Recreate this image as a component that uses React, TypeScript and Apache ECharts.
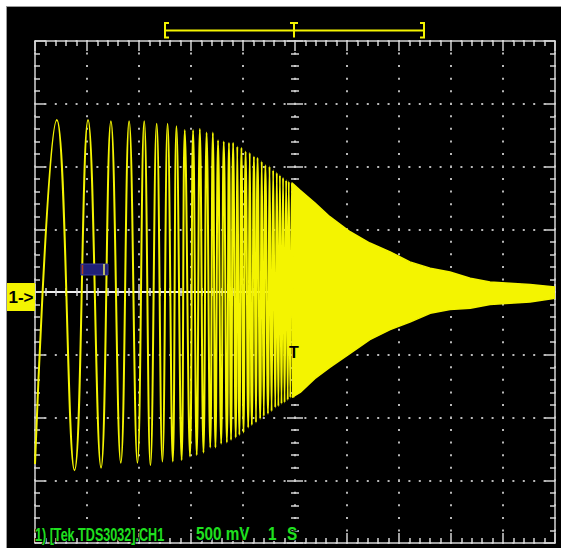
import { useEffect, useRef } from "react";
import * as echarts from "echarts";

// ---- axis ranges (seconds / volts) ----
const TIME_MIN = -5;
const TIME_MAX = 5;
const TIME_PER_DIV = 1;
const VOLT_MIN = -2;
const VOLT_MAX = 2;
const VOLT_PER_DIV = 0.5;

// ---- trace: start point, then alternating peaks / troughs ----
const traceStartTime = -5.0;
const traceStartVolt = -1.37;

const peakTimes = [
  -4.58, -3.98, -3.54, -3.19, -2.9, -2.66, -2.45, -2.28, -2.12, -1.96, -1.83,
  -1.7, -1.58, -1.48, -1.37, -1.27, -1.19, -1.11, -1.03, -0.95, -0.87, -0.79,
  -0.72, -0.64, -0.57, -0.49, -0.42, -0.35, -0.29, -0.23, -0.17, -0.12, -0.06,
];
const peakVolts = [
  1.37, 1.37, 1.36, 1.36, 1.36, 1.34, 1.34, 1.32, 1.29, 1.29, 1.3, 1.27, 1.27,
  1.21, 1.2, 1.19, 1.19, 1.16, 1.15, 1.12, 1.11, 1.08, 1.07, 1.04, 1.01, 1.0,
  0.97, 0.95, 0.93, 0.91, 0.89, 0.88, 0.87,
];
const troughTimes = [
  -4.24, -3.73, -3.35, -3.03, -2.78, -2.55, -2.35, -2.18, -2.02, -1.89, -1.76,
  -1.63, -1.53, -1.42, -1.31, -1.23, -1.14, -1.07, -0.99, -0.9, -0.83, -0.75,
  -0.67, -0.6, -0.52, -0.45, -0.38, -0.32, -0.26, -0.2, -0.14, -0.09, -0.03,
];
const troughVolts = [
  -1.42, -1.4, -1.36, -1.36, -1.38, -1.35, -1.35, -1.34, -1.31, -1.3, -1.28,
  -1.24, -1.24, -1.21, -1.2, -1.18, -1.16, -1.14, -1.12, -1.08, -1.06, -1.04,
  -1.01, -0.99, -0.97, -0.95, -0.92, -0.91, -0.89, -0.88, -0.86, -0.84, -0.84,
];

// ---- dense (aliased) part: upper / lower envelope ----
const envelopeTimes = [
  -0.06, 0.1, 0.38, 0.67, 1.06, 1.44, 1.83, 2.21, 2.6, 2.98, 3.37, 3.75, 4.13,
  4.52, 5.0,
];
const envelopeUpper = [
  0.87, 0.81, 0.71, 0.6, 0.48, 0.39, 0.32, 0.24, 0.19, 0.16, 0.11, 0.08, 0.07,
  0.06, 0.04,
];
const envelopeLower = [
  -0.84, -0.8, -0.69, -0.6, -0.49, -0.38, -0.3, -0.24, -0.17, -0.14, -0.13,
  -0.1, -0.09, -0.08, -0.05,
];

// ---- screen texts ----
const channelTag = "1->";
const triggerMark = "T";
const statusSource = "1) [Tek TDS3032].CH1";
const statusVolts = "500 mV";
const statusTime = "1";
const statusUnit = "S";

const YELLOW = "#f4f400";
const FRAME = "#d4d4d4";
const DOT = "#b8b8b8";
const GREEN = "#1fe01f";

export default function App() {
  const ref = useRef<HTMLDivElement>(null);

  useEffect(() => {
    if (!ref.current) return;
    const chart = echarts.init(ref.current, undefined, { renderer: "svg" });

    const trace: number[][] = [[traceStartTime, traceStartVolt]];
    for (let i = 0; i < peakTimes.length; i++) {
      trace.push([peakTimes[i], peakVolts[i]]);
      if (i < troughTimes.length) trace.push([troughTimes[i], troughVolts[i]]);
    }
    const upper = envelopeTimes.map((t, i) => [t, envelopeUpper[i]]);
    const lower = envelopeTimes.map((t, i) => [t, envelopeLower[i]]);

    const gridRect = { left: 35, top: 41, width: 520, height: 502, containLabel: false, outerBoundsMode: "none" };

    const tickStyle = (color: string) => ({ color, width: 1.5 });
    const baseX = { type: "value", min: TIME_MIN, max: TIME_MAX, interval: TIME_PER_DIV, axisLabel: { show: false } };
    const baseY = { type: "value", min: VOLT_MIN, max: VOLT_MAX, interval: VOLT_PER_DIV, axisLabel: { show: false } };

    const frameX = (position: string, withSplit: boolean) => ({
      ...baseX,
      gridIndex: 0,
      position,
      axisLine: { show: true, onZero: false, lineStyle: { color: FRAME, width: 1.5 } },
      axisTick: { show: true, inside: true, length: 10, lineStyle: tickStyle(FRAME) },
      minorTick: { show: true, splitNumber: 5, length: 5, lineStyle: tickStyle(FRAME) },
      splitLine: {
        show: withSplit,
        lineStyle: { color: DOT, width: 2, type: [2, 10.55], dashOffset: 1 },
      },
    });
    const frameY = (position: string, withSplit: boolean) => ({
      ...baseY,
      gridIndex: 0,
      position,
      axisLine: { show: true, onZero: false, lineStyle: { color: FRAME, width: 1.5 } },
      axisTick: { show: true, inside: true, length: 10, lineStyle: tickStyle(FRAME) },
      minorTick: { show: true, splitNumber: 5, length: 5, lineStyle: tickStyle(FRAME) },
      splitLine: {
        show: withSplit,
        lineStyle: { color: DOT, width: 2, type: [2, 8.4], dashOffset: 1 },
      },
    });
    const crossX = (grid: number, inside: boolean, lineColor: string) => ({
      ...baseX,
      gridIndex: grid,
      position: "bottom",
      axisLine: { show: true, onZero: true, lineStyle: { color: lineColor, width: 1.5 } },
      axisTick: { show: true, inside, length: 8, lineStyle: tickStyle(FRAME) },
      minorTick: { show: true, splitNumber: 5, length: 4, lineStyle: tickStyle(FRAME) },
      splitLine: { show: false },
    });
    const crossY = (grid: number, inside: boolean) => ({
      ...baseY,
      gridIndex: grid,
      position: "left",
      axisLine: { show: true, onZero: true, lineStyle: { color: "rgba(0,0,0,0)", width: 1 } },
      axisTick: { show: true, inside, length: 8, lineStyle: tickStyle(FRAME) },
      minorTick: { show: true, splitNumber: 5, length: 4, lineStyle: tickStyle(FRAME) },
      splitLine: { show: false },
    });

    const textStyle = (text: string, fill: string, font: string, align: string, vAlign: string, extra: any = {}) => ({
      text,
      fill,
      font,
      align,
      verticalAlign: vAlign,
      textAlign: align,
      textVerticalAlign: vAlign,
      ...extra,
    });

    const statusFont = "bold 18px 'Liberation Sans', Arial, sans-serif";
    const statusExtra = { stroke: "#000", lineWidth: 2 };

    const option: any = {
      animation: false,
      backgroundColor: "transparent",
      grid: [gridRect, { ...gridRect }, { ...gridRect }],
      xAxis: [frameX("bottom", true), frameX("top", false), crossX(1, true, "#ffffff"), crossX(2, false, "#ffffff")],
      yAxis: [frameY("left", true), frameY("right", false), crossY(1, true), crossY(2, false)],
      series: [
        {
          type: "line",
          xAxisIndex: 0,
          yAxisIndex: 0,
          data: upper,
          symbol: "none",
          lineStyle: { color: YELLOW, width: 1.5 },
          areaStyle: { color: YELLOW, opacity: 1, origin: "auto" },
          z: 3,
        },
        {
          type: "line",
          xAxisIndex: 0,
          yAxisIndex: 0,
          data: lower,
          symbol: "none",
          lineStyle: { color: YELLOW, width: 1.5 },
          areaStyle: { color: YELLOW, opacity: 1, origin: "auto" },
          z: 3,
        },
        {
          type: "line",
          xAxisIndex: 0,
          yAxisIndex: 0,
          data: trace,
          symbol: "none",
          smooth: 0.45,
          lineStyle: { color: YELLOW, width: 2 },
          z: 4,
        },
      ],
      graphic: [
        // record-view bracket on top
        { type: "line", silent: true, z: 10, shape: { x1: 165, y1: 30.5, x2: 424, y2: 30.5 }, style: { stroke: YELLOW, lineWidth: 2 } },
        { type: "polyline", silent: true, z: 10, shape: { points: [[169, 23], [165, 23], [165, 37.5], [169, 37.5]] }, style: { stroke: YELLOW, lineWidth: 2, fill: null } },
        { type: "polyline", silent: true, z: 10, shape: { points: [[420, 23], [424, 23], [424, 37.5], [420, 37.5]] }, style: { stroke: YELLOW, lineWidth: 2, fill: null } },
        { type: "line", silent: true, z: 10, shape: { x1: 290, y1: 23, x2: 298, y2: 23 }, style: { stroke: YELLOW, lineWidth: 2 } },
        { type: "line", silent: true, z: 10, shape: { x1: 294, y1: 23, x2: 294, y2: 37.5 }, style: { stroke: YELLOW, lineWidth: 2 } },
        // channel tag
        { type: "rect", silent: true, z: 10, shape: { x: 7, y: 283, width: 28, height: 28 }, style: { fill: YELLOW } },
        { type: "text", silent: true, z: 11, x: 21, y: 297.5, style: textStyle(channelTag, "#000", "bold 17px 'Liberation Sans', Arial, sans-serif", "center", "middle") },
        // small cursor icon
        { type: "rect", silent: true, z: 10, shape: { x: 81, y: 264, width: 27, height: 11 }, style: { fill: "#202078", stroke: "#3a3a9a", lineWidth: 1 } },
        { type: "line", silent: true, z: 11, shape: { x1: 82.5, y1: 265, x2: 82.5, y2: 274 }, style: { stroke: "#b04020", lineWidth: 1.5 } },
        { type: "line", silent: true, z: 11, shape: { x1: 104, y1: 264, x2: 104, y2: 275 }, style: { stroke: "#e8e860", lineWidth: 1.5 } },
        // trigger mark
        { type: "text", silent: true, z: 11, x: 294, y: 352, style: textStyle(triggerMark, "#000", "bold 16px 'Liberation Sans', Arial, sans-serif", "center", "middle") },
        // status line
        { type: "text", silent: true, z: 12, x: 35, y: 534.5, scaleX: 0.7, style: textStyle(statusSource, GREEN, statusFont, "left", "middle", statusExtra) },
        { type: "text", silent: true, z: 12, x: 196, y: 534.5, scaleX: 0.85, style: textStyle(statusVolts, GREEN, statusFont, "left", "middle", statusExtra) },
        { type: "text", silent: true, z: 12, x: 268, y: 534.5, scaleX: 0.85, style: textStyle(statusTime, GREEN, statusFont, "left", "middle", statusExtra) },
        { type: "text", silent: true, z: 12, x: 287, y: 534.5, scaleX: 0.85, style: textStyle(statusUnit, GREEN, statusFont, "left", "middle", statusExtra) },
      ],
    };

    chart.setOption(option);
    return () => chart.dispose();
  }, []);

  return (
    <div style={{ position: "fixed", left: 0, top: 0, width: 561, height: 548, background: "#fff", overflow: "hidden" }}>
      <div
        style={{
          position: "absolute",
          left: 6,
          top: 6,
          right: 0,
          bottom: 0,
          background: "#000",
          borderLeft: "1px solid #9a9a9a",
          borderTop: "1px solid #9a9a9a",
        }}
      />
      <div ref={ref} style={{ position: "absolute", left: 0, top: 0, width: 561, height: 548 }} />
    </div>
  );
}
